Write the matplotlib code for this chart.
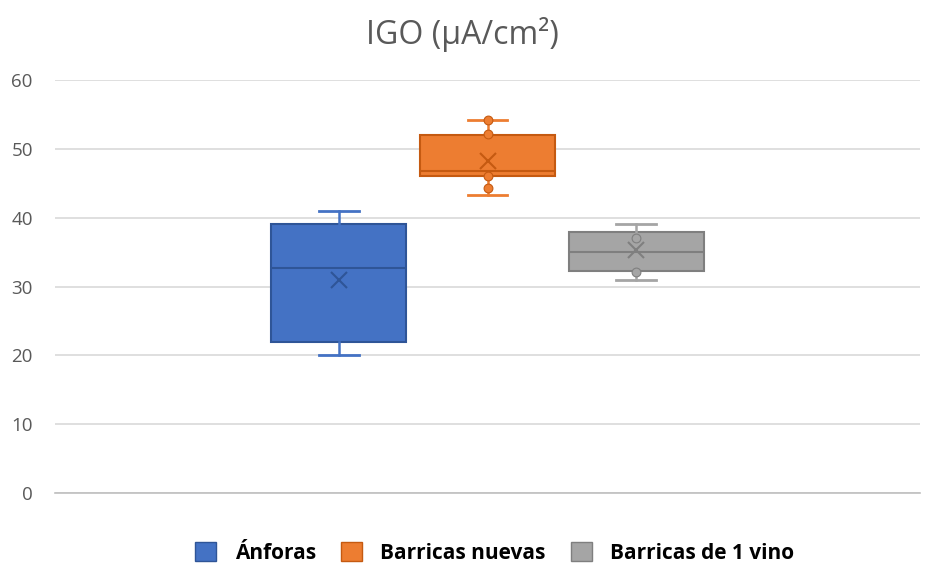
import matplotlib
matplotlib.use("Agg")
import matplotlib.pyplot as plt
from matplotlib.patches import Patch

# values (µA/cm²)
groups = ["Ánforas", "Barricas nuevas", "Barricas de 1 vino"]
whisker_low = [20.1, 43.3, 31.0]
q1 = [21.9, 46.1, 32.3]
median = [32.7, 46.8, 35.0]
q3 = [39.1, 52.0, 37.9]
whisker_high = [41.0, 54.2, 39.1]
mean = [31.0, 48.3, 35.3]
inner_points = [[], [54.2, 52.2, 46.1, 44.3], [37.0, 32.1]]

fills = ["#4472C4", "#ED7D31", "#A5A5A5"]
edges = ["#2F5597", "#C55A11", "#7F7F7F"]
txt = "#595959"

plt.rcParams["font.family"] = ["Open Sans", "DejaVu Sans"]

fig = plt.figure(figsize=(9.25, 5.69), dpi=100)
ax = fig.add_axes([55 / 925, 1 - 493 / 569, 865 / 925, 413 / 569])

positions = [0.5 + (i - 1) * 0.172 for i in range(len(groups))]
width = 0.156

for i, g in enumerate(groups):
    stats = [dict(label=g, whislo=whisker_low[i], q1=q1[i], med=median[i],
                  q3=q3[i], whishi=whisker_high[i], mean=mean[i], fliers=[])]
    ax.bxp(stats, positions=[positions[i]], widths=width, capwidths=0.046,
           patch_artist=True, showmeans=True, manage_ticks=False,
           boxprops=dict(facecolor=fills[i], edgecolor=edges[i], linewidth=1.5),
           medianprops=dict(color=edges[i], linewidth=1.5),
           whiskerprops=dict(color=fills[i], linewidth=1.8),
           capprops=dict(color=fills[i], linewidth=2),
           meanprops=dict(marker="x", markeredgecolor=edges[i], markersize=12,
                          markeredgewidth=1.5), zorder=3)
    if inner_points[i]:
        ax.scatter([positions[i]] * len(inner_points[i]), inner_points[i],
                   s=40, color=fills[i], edgecolor=edges[i], linewidth=0.8,
                   zorder=4)

ax.set_xlim(0, 1)
ax.set_ylim(0, 60)
ax.set_yticks(range(0, 61, 10))
ax.set_xticks([])
ax.grid(axis="y", color="#D9D9D9", linewidth=1.2, zorder=0)
ax.set_axisbelow(True)
for s in ["top", "right", "left"]:
    ax.spines[s].set_visible(False)
ax.spines["bottom"].set_color("#BFBFBF")
ax.spines["bottom"].set_linewidth(1.2)
ax.tick_params(axis="y", length=0, pad=16, labelsize=13.5, labelcolor=txt)

fig.text(0.5, 1 - 35 / 569, "IGO (µA/cm²)", ha="center", va="center",
         fontsize=23, color=txt)

handles = [Patch(facecolor=fills[i], edgecolor=edges[i]) for i in range(len(groups))]
leg = fig.legend(handles, groups, loc="center", bbox_to_anchor=(0.535, 1 - 553 / 569),
                 ncol=3, frameon=False, handlelength=1.0, handleheight=1.0,
                 columnspacing=1.2, handletextpad=0.9,
                 prop=dict(size=15, weight="bold"))

fig.savefig("out.png", dpi=100)
